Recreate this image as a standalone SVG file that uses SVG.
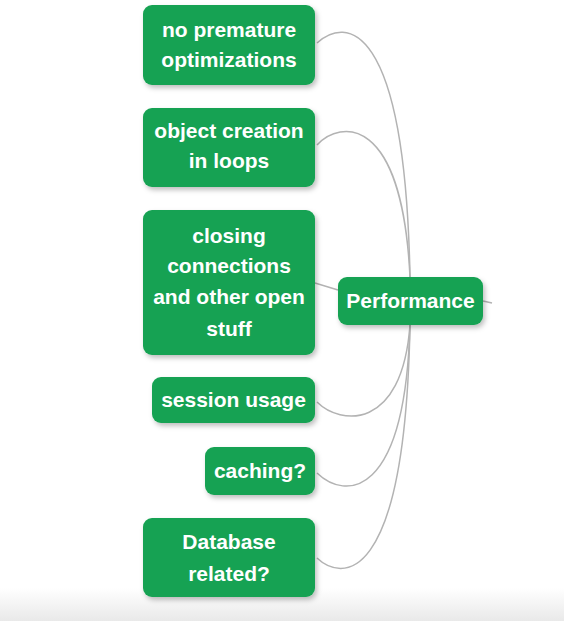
<svg xmlns="http://www.w3.org/2000/svg" width="564" height="621" viewBox="0 0 564 621">
  <defs>
    <linearGradient id="bg" x1="0" y1="0" x2="0" y2="1">
      <stop offset="0" stop-color="#ffffff"/>
      <stop offset="1" stop-color="#e9e9e9"/>
    </linearGradient>
    <filter id="sh" x="-10%" y="-10%" width="130%" height="140%">
      <feDropShadow dx="2" dy="3" stdDeviation="2.5" flood-color="#000" flood-opacity="0.25"/>
    </filter>
  </defs>
  <style>
    .node { fill: #16a252; filter: url(#sh); }
    .label { fill: #ffffff; font-family: "Liberation Sans", Arial, sans-serif; font-weight: bold; font-size: 21px; text-anchor: middle; }
    .conn { fill: none; stroke: #b3b3b3; stroke-width: 1.5; }
  </style>
  <rect x="0" y="0" width="564" height="621" fill="#ffffff"/>
  <rect x="0" y="588" width="564" height="33" fill="url(#bg)"/>

  <g id="connectors">
    <path class="conn" d="M317,43 C345,17 405,18 410,277"/>
    <path class="conn" d="M317,145 C340,120 402,113 410,277"/>
    <path class="conn" d="M315,283 L338,290"/>
    <path class="conn" d="M483,301 L492,303"/>
    <path class="conn" d="M317,402 C340,425 402,432 410,325"/>
    <path class="conn" d="M317,473 C345,500 405,500 410,325"/>
    <path class="conn" d="M317,558 C340,580 405,592 410,325"/>
  </g>

  <g id="node-premature">
    <rect class="node" x="143" y="5" width="172" height="80" rx="9"/>
    <text class="label" x="229" y="37">no premature</text>
    <text class="label" x="229" y="67">optimizations</text>
  </g>
  <g id="node-object">
    <rect class="node" x="143" y="108" width="172" height="79" rx="9"/>
    <text class="label" x="229" y="138">object creation</text>
    <text class="label" x="229" y="168">in loops</text>
  </g>
  <g id="node-closing">
    <rect class="node" x="143" y="210" width="172" height="145" rx="9"/>
    <text class="label" x="229" y="243">closing</text>
    <text class="label" x="229" y="273">connections</text>
    <text class="label" x="229" y="304">and other open</text>
    <text class="label" x="229" y="336">stuff</text>
  </g>
  <g id="node-performance">
    <rect class="node" x="338" y="277" width="145" height="48" rx="9"/>
    <text class="label" x="410.5" y="308">Performance</text>
  </g>
  <g id="node-session">
    <rect class="node" x="152" y="377" width="163" height="46" rx="9"/>
    <text class="label" x="233.5" y="407">session usage</text>
  </g>
  <g id="node-caching">
    <rect class="node" x="205" y="447" width="110" height="48" rx="9"/>
    <text class="label" x="260" y="478">caching?</text>
  </g>
  <g id="node-database">
    <rect class="node" x="143" y="518" width="172" height="79" rx="9"/>
    <text class="label" x="229" y="549">Database</text>
    <text class="label" x="229" y="581">related?</text>
  </g>
</svg>
